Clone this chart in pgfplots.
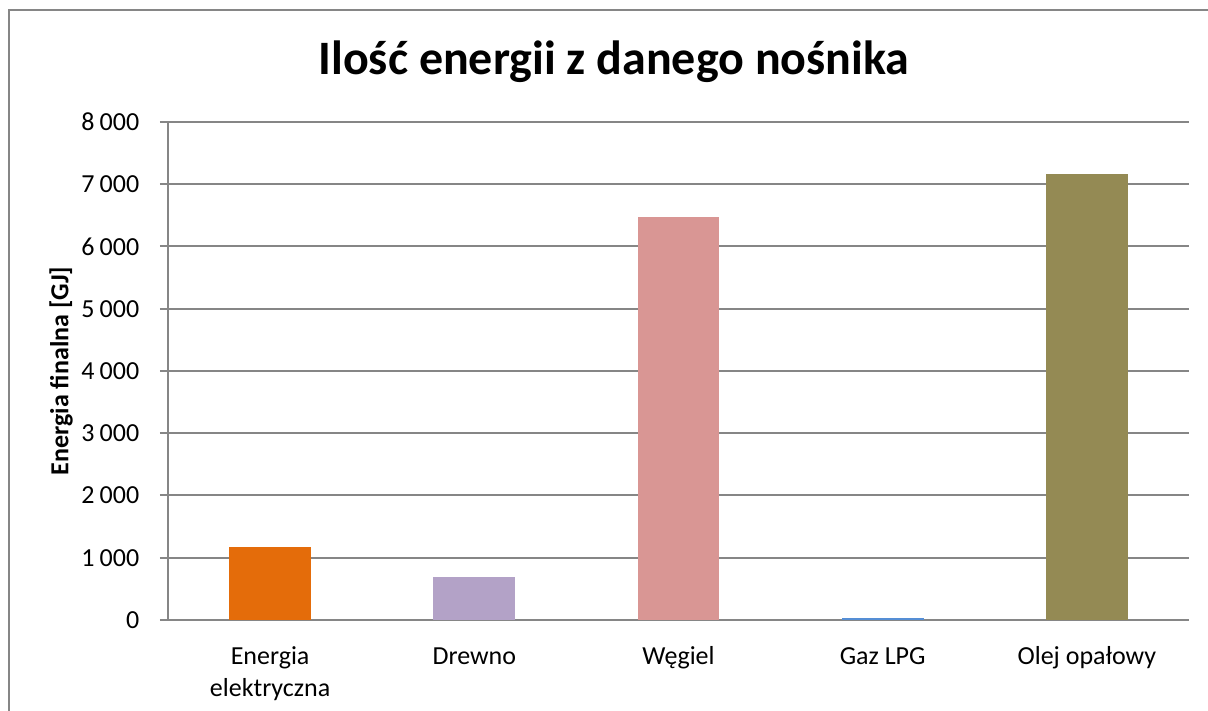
\documentclass[border=0pt]{standalone}
\usepackage{pgfplots}
\pgfplotsset{compat=1.18}
\usepackage{fontspec}
\setmainfont{Carlito}
\definecolor{gridc}{HTML}{868686}
\definecolor{c1}{HTML}{E46C0A}
\definecolor{c2}{HTML}{B3A2C7}
\definecolor{c3}{HTML}{D99694}
\definecolor{c4}{HTML}{558ED5}
\definecolor{c5}{HTML}{948A54}
\begin{document}
\begin{tikzpicture}
\begin{scope}[x=0.75pt,y=0.75pt]
\path[use as bounding box] (0,0) rectangle (1208,711);
\draw[gridc,line width=1.5] (9,-20) -- (9,701) -- (1230,701);
\node[font=\fontsize{36}{40}\selectfont\bfseries,anchor=base] at (614,636) {Ilość energii z danego nośnika};
\node[font=\fontsize{19.5}{24}\selectfont\bfseries,rotate=90] at (61,340) {Energia finalna [GJ]};
\end{scope}
\begin{axis}[
  at={(126pt,68.25pt)}, anchor=south west,
  scale only axis, width=765.75pt, height=373.5pt,
  xmin=-0.5, xmax=4.5, ymin=0, ymax=8000,
  ybar, bar width=0.4, bar shift=0pt,
  axis x line*=bottom, axis y line*=left,
  axis line style={gridc,line width=1.5pt,-},
  tick style={gridc,line width=1.5pt},
  tick align=outside,
  ytick={0,1000,...,8000},
  major tick length=6pt,
  ymajorgrids, grid style={gridc,line width=1.5pt},
  xtick={0,1,2,3,4},
  xticklabels={{\strut Energia\\elektryczna},\strut Drewno,\strut Węgiel,\strut Gaz LPG,\strut Olej opałowy},
  x tick style={draw=none},
  minor xtick={-0.5,0.5,...,4.5},
  minor x tick style={gridc,line width=1.5pt},
  minor tick length=6pt,
  xticklabel style={font=\fontsize{19.5}{24}\selectfont, align=center, anchor=north, yshift=-7pt},
  yticklabel style={font=\fontsize{19.5}{24}\selectfont, xshift=-12pt},
  /pgf/number format/.cd, 1000 sep={\hspace{0.2em}}, assume math mode=true,
]
\addplot[fill=c1,draw=none] coordinates {(0,1170)};
\addplot[fill=c2,draw=none] coordinates {(1,690)};
\addplot[fill=c3,draw=none] coordinates {(2,6470)};
\addplot[fill=c4,draw=none] coordinates {(3,35)};
\addplot[fill=c5,draw=none] coordinates {(4,7165)};
\end{axis}
\end{tikzpicture}
\end{document}
